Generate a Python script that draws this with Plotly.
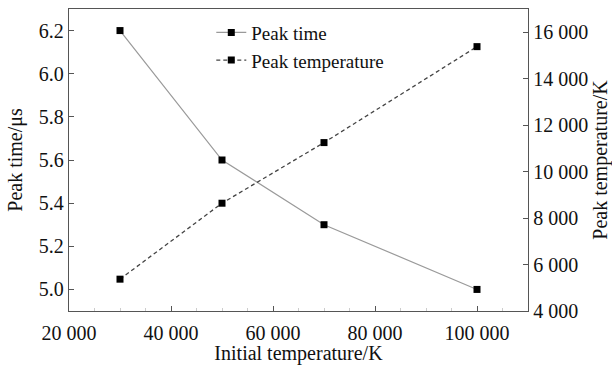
import plotly.graph_objects as go

initial_temp = [30000, 50000, 70000, 100000]
peak_time = [6.2, 5.6, 5.3, 5.0]
peak_temperature = [5370, 8640, 11250, 15380]

x_tickvals = [20000, 40000, 60000, 80000, 100000]
x_ticktext = ["20 000", "40 000", "60 000", "80 000", "100 000"]
y_tickvals = [5.0, 5.2, 5.4, 5.6, 5.8, 6.0, 6.2]
y_ticktext = ["5.0", "5.2", "5.4", "5.6", "5.8", "6.0", "6.2"]
y2_tickvals = [4000, 6000, 8000, 10000, 12000, 14000, 16000]
y2_ticktext = ["4 000", "6 000", "8 000", "10 000", "12 000", "14 000", "16 000"]

FONT = "Times New Roman, Liberation Serif, serif"
AX = "#555555"
FS = 20

fig = go.Figure()
fig.add_trace(go.Scatter(
    x=initial_temp, y=peak_time, name="Peak time", mode="lines+markers",
    line=dict(color="#9a9a9a", width=1.2),
    marker=dict(symbol="square", size=7, color="black"),
))
fig.add_trace(go.Scatter(
    x=initial_temp, y=peak_temperature, name="Peak temperature", mode="lines+markers",
    yaxis="y2",
    line=dict(color="#444444", width=1.3, dash="4px,3px"),
    marker=dict(symbol="square", size=7, color="black"),
))

fig.update_layout(
    width=612, height=365,
    margin=dict(l=69, r=84, t=9, b=54),
    paper_bgcolor="white", plot_bgcolor="white",
    font=dict(family=FONT, size=FS, color="#111111"),
    showlegend=True,
    legend=dict(x=0.31, y=0.985, xanchor="left", yanchor="top",
                bgcolor="rgba(0,0,0,0)", font=dict(size=19),
                tracegroupgap=0, itemwidth=30),
    xaxis=dict(
        range=[20000, 110000], tickvals=x_tickvals, ticktext=x_ticktext,
        showline=True, linecolor=AX, linewidth=1.3, mirror=True,
        ticks="inside", ticklen=5, tickcolor=AX, showgrid=False, zeroline=False,
        ticklabelstandoff=4, automargin=False,
        minor=dict(ticks="inside", dtick=5000, tick0=0, ticklen=3, tickcolor="#cccccc"),
        title=dict(text="Initial temperature/K", standoff=2, font=dict(size=FS)),
    ),
    yaxis=dict(
        range=[4.9, 6.3], tickvals=y_tickvals, ticktext=y_ticktext,
        showline=True, linecolor=AX, linewidth=1.3, automargin=False,
        ticks="inside", ticklen=5, tickcolor=AX, showgrid=False, zeroline=False,
        title=dict(text="Peak time/μs", standoff=10, font=dict(size=FS)),
    ),
    yaxis2=dict(
        range=[4000, 17000], tickvals=y2_tickvals, ticktext=y2_ticktext,
        overlaying="y", side="right", automargin=False,
        showline=True, linecolor=AX, linewidth=1.3,
        ticks="inside", ticklen=5, tickcolor=AX, showgrid=False, zeroline=False,
        title=dict(text="Peak temperature/K", standoff=10, font=dict(size=FS)),
    ),
)

fig.write_html("out.html")
